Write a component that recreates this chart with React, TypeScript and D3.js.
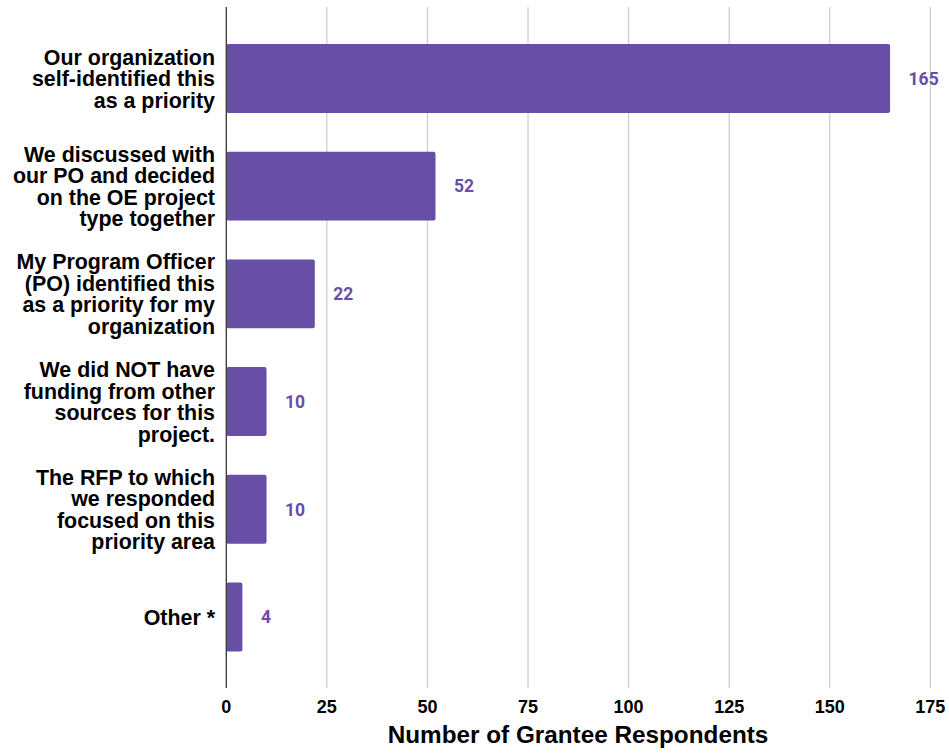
import React from "react";
import * as d3 from "d3";

const categories: string[][] = [
  ["Our organization", "self-identified this", "as a priority"],
  ["We discussed with", "our PO and decided", "on the OE project", "type together"],
  ["My Program Officer", "(PO) identified this", "as a priority for my", "organization"],
  ["We did NOT have", "funding from other", "sources for this", "project."],
  ["The RFP to which", "we responded", "focused on this", "priority area"],
  ["Other *"],
];
const values: number[] = [165, 52, 22, 10, 10, 4];
const ticks: number[] = [0, 25, 50, 75, 100, 125, 150, 175];
const axisTitle = "Number of Grantee Respondents";

const W = 949;
const H = 753;
const BAR = "#674ea7";

export default function App() {
  const x = d3.scaleLinear().domain([0, 175]).range([226.3, 930.3]);
  const ids = categories.map((_, i) => String(i));
  const y = d3
    .scaleBand<string>()
    .domain(ids)
    .range([24.6, 670.8])
    .paddingInner(0.36)
    .paddingOuter(0.18);
  const gridTop = 7;
  const gridBottom = 688;
  const lineH = 21.5;
  const bw = y.bandwidth();

  return (
    <svg
      width={W}
      height={H}
      style={{ position: "absolute", left: 0, top: 0, background: "#fff" }}
    >
      {ticks.slice(1).map((t) => (
        <line
          key={"g" + t}
          x1={x(t)}
          x2={x(t)}
          y1={gridTop}
          y2={gridBottom}
          stroke="#cccccc"
          strokeWidth={1.2}
        />
      ))}
      {values.map((v, i) => (
        <rect
          key={"b" + i}
          x={x(0)}
          y={y(ids[i])!}
          width={x(v) - x(0)}
          height={bw}
          rx={2}
          ry={2}
          fill={BAR}
        />
      ))}
      <line
        x1={x(0)}
        x2={x(0)}
        y1={gridTop}
        y2={gridBottom}
        stroke="#333333"
        strokeWidth={1.3}
      />
      {values.map((v, i) => (
        <text
          key={"v" + i}
          x={x(v) + 18.5}
          y={y(ids[i])! + bw / 2}
          dy="0.36em"
          fill={BAR}
          fontFamily="Roboto, sans-serif"
          fontWeight={700}
          fontSize={17.5}
        >
          {v}
        </text>
      ))}
      {categories.map((lines, i) => {
        const cy = y(ids[i])! + bw / 2;
        const start = cy - ((lines.length - 1) * lineH) / 2;
        return (
          <text
            key={"c" + i}
            textAnchor="end"
            fontFamily="'Liberation Sans', Arial, sans-serif"
            fontWeight={700}
            fontSize={21.4}
            fill="#000"
          >
            {lines.map((l, j) => (
              <tspan key={j} x={215} y={start + j * lineH} dy="0.36em">
                {l}
              </tspan>
            ))}
          </text>
        );
      })}
      {ticks.map((t) => (
        <text
          key={"t" + t}
          x={x(t)}
          y={707}
          dy="0.36em"
          textAnchor="middle"
          fontFamily="'Liberation Sans', Arial, sans-serif"
          fontWeight={700}
          fontSize={18}
          fill="#000"
        >
          {t}
        </text>
      ))}
      <text
        x={578}
        y={734}
        dy="0.36em"
        textAnchor="middle"
        fontFamily="'Liberation Sans', Arial, sans-serif"
        fontWeight={700}
        fontSize={24.3}
        fill="#000"
      >
        {axisTitle}
      </text>
    </svg>
  );
}
